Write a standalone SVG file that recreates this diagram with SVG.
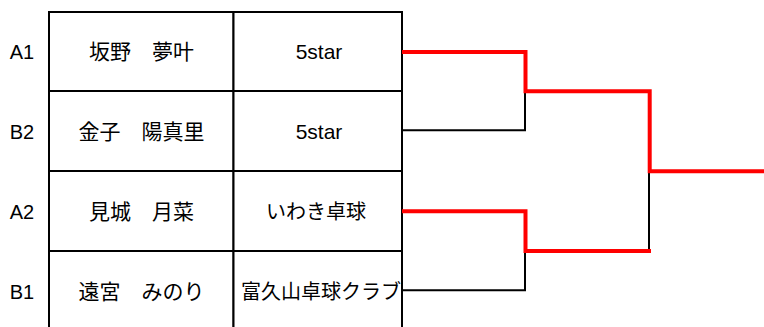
<svg xmlns="http://www.w3.org/2000/svg" width="764" height="327" viewBox="0 0 764 327">
<style>
text{font-family:'Liberation Sans','Noto Sans CJK JP',sans-serif;font-size:20px;fill:#000;text-anchor:middle}
.nm{font-size:21px}
.cell{fill:#fff;stroke:#000;stroke-width:2}
.win{fill:none;stroke:#f00;stroke-width:4;stroke-linejoin:miter;stroke-linecap:square}
.lose{fill:none;stroke:#000;stroke-width:2}
</style>
<rect width="764" height="327" fill="#fff"/>
<g id="row-A1">
<rect class="cell" x="49" y="12" width="184.5" height="79"/>
<rect class="cell" x="233.5" y="12" width="168.5" height="79"/>
<text x="22" y="58.5">A1</text>
<text class="nm" x="141.5" y="58.5">坂野　夢叶</text>
<text class="nm" x="319" y="58.5">5star</text>
</g>
<g id="row-B2">
<rect class="cell" x="49" y="91" width="184.5" height="80"/>
<rect class="cell" x="233.5" y="91" width="168.5" height="80"/>
<text x="22" y="138.5">B2</text>
<text class="nm" x="141.5" y="138.5">金子　陽真里</text>
<text class="nm" x="319" y="138.5">5star</text>
</g>
<g id="row-A2">
<rect class="cell" x="49" y="171" width="184.5" height="80"/>
<rect class="cell" x="233.5" y="171" width="168.5" height="80"/>
<text x="22" y="218.5">A2</text>
<text class="nm" x="141.5" y="218.5">見城　月菜</text>
<text x="316" y="218.5">いわき卓球</text>
</g>
<g id="row-B1">
<rect class="cell" x="49" y="251" width="184.5" height="80"/>
<rect class="cell" x="233.5" y="251" width="168.5" height="80"/>
<text x="22" y="298.5">B1</text>
<text class="nm" x="141.5" y="298.5">遠宮　みのり</text>
<text x="321" y="298.5">富久山卓球クラブ</text>
</g>
<g id="connectors">
<path class="lose" d="M402,130.3 H525 V91"/>
<path class="lose" d="M402,290.3 H525 V251"/>
<path class="lose" d="M649,171 V251.3"/>
<path class="win" d="M404,52 H525.5 V91.3 H649.7 V171.3 H766"/>
<path class="win" d="M404,211.3 H525.5 V251 H649"/>
</g>
</svg>
